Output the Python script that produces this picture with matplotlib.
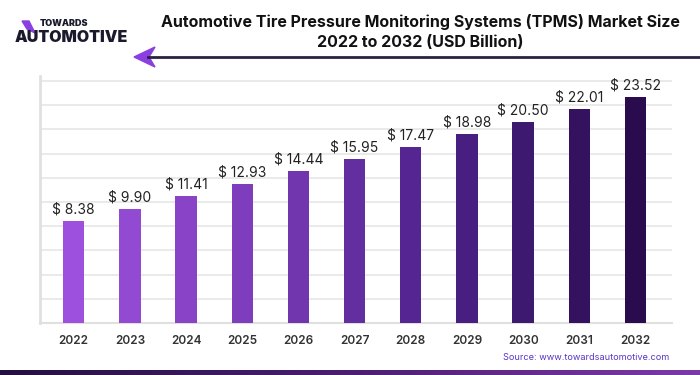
import matplotlib
matplotlib.use("Agg")
import matplotlib.pyplot as plt
import numpy as np
from matplotlib.colors import LinearSegmentedColormap
from matplotlib.patches import Polygon

years = ["2022", "2023", "2024", "2025", "2026", "2027", "2028", "2029", "2030", "2031", "2032"]
values = [8.38, 9.90, 11.41, 12.93, 14.44, 15.95, 17.47, 18.98, 20.50, 22.01, 23.52]
title = "Automotive Tire Pressure Monitoring Systems (TPMS) Market Size\n2022 to 2032 (USD Billion)"
source = "Source: www.towardsautomotive.com"

plt.rcParams['font.family'] = ['Inter', 'DejaVu Sans']

fig = plt.figure(figsize=(7, 3.75), dpi=100)
ax = fig.add_axes([40/700, (375-323)/375, (672-40)/700, (323-76)/375])

cmap = LinearSegmentedColormap.from_list("p", ["#9d50de", "#7a3bb8", "#4c2187", "#2a0c4e"])
n = len(values)
colors = [cmap(i/(n-1)) for i in range(n)]
x = np.arange(n)
ymin, ymax = -4.07, 26.1
ax.bar(x, np.array(values) - ymin, bottom=ymin, width=0.38, color=colors, zorder=3)
for xi, v in zip(x, values):
    ax.text(xi, v + 0.55, f"$ {v:.2f}", ha="center", va="bottom", fontsize=10, color="#222222", zorder=4)

ax.set_xlim(-0.6, 10.65)
ax.set_ylim(ymin, ymax)
ax.set_yticks(np.linspace(ymin, 25.48, 11))
ax.set_yticklabels([])
ax.tick_params(axis="y", length=0)
ax.tick_params(axis="x", length=0, pad=9)
ax.set_xticks(x)
ax.set_xticklabels(years, fontsize=8.5, fontweight="semibold", color="#333333")
ax.grid(axis="y", color="#e6e6e6", linewidth=1.2, zorder=0)
for s in ["top", "right"]:
    ax.spines[s].set_visible(False)
ax.spines["left"].set_color("#e0e0e0")
ax.spines["left"].set_linewidth(2)
ax.spines["bottom"].set_color("#e0e0e0")
ax.spines["bottom"].set_linewidth(1.5)

# Title
fig.text(420/700, 1 - 32/375, title, ha="center", va="center", fontsize=11.5,
         fontweight="bold", color="#111111", linespacing=1.35)

# Header line with arrow
fig.add_artist(plt.Line2D([148/700, 1.0], [1 - 57/375, 1 - 57/375], color="#2b2140", linewidth=2))
arrow = Polygon([[134/700, 1 - 57/375], [155/700, 1 - 47/375], [149/700, 1 - 57/375], [155/700, 1 - 67/375]],
                closed=True, transform=fig.transFigure, color="#8a3fe0")
fig.add_artist(arrow)

# Logo
fig.text(40/700, 1 - 24/375, "TOWARDS", fontsize=6.5, fontweight="black", color="#1a1a2e", va="center", ha="left")
fig.text(15/700, 1 - 37/375, "AUTOMOTIVE", fontsize=11.5, fontweight="black", color="#1a1a2e", va="center", ha="left")
logo = Polygon([[22/700, 1 - 21/375], [29/700, 1 - 21/375], [35/700, 1 - 33/375], [27/700, 1 - 29/375]],
               closed=True, transform=fig.transFigure, color="#8a3fe0")
fig.add_artist(logo)

# Source
fig.text(586/700, 1 - 357/375, source, fontsize=6.6, color="#5b35c8", ha="center", va="center")

# Bottom gradient band
band_ax = fig.add_axes([0, 0, 1, 5/375])
grad = np.linspace(0, 1, 256).reshape(1, -1)
band_cmap = LinearSegmentedColormap.from_list("b", ["#24103f", "#4a1e72", "#7b3aa6"])
band_ax.imshow(grad, aspect="auto", cmap=band_cmap, extent=[0, 1, 0, 1])
band_ax.set_axis_off()

fig.savefig("out.png", dpi=100)
